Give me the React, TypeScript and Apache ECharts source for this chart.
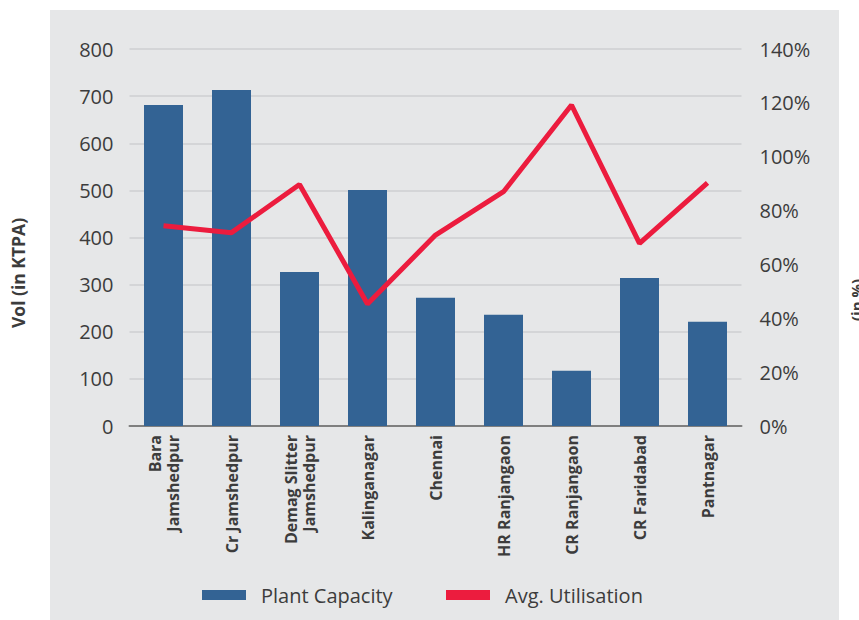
import React, { useEffect, useRef } from "react";
import * as echarts from "echarts";

const categories = [
  "Bara\nJamshedpur",
  "Cr Jamshedpur",
  "Demag Slitter\nJamshedpur",
  "Kalinganagar",
  "Chennai",
  "HR Ranjangaon",
  "CR Ranjangaon",
  "CR Faridabad",
  "Pantnagar",
];
const plantCapacity = [681, 713, 327, 501, 272, 236, 117, 314, 221];
const avgUtilisation = [74.4, 71.8, 89.7, 45.3, 70.9, 87, 119.2, 67.8, 90.3];
const leftAxisName = "Vol (in KTPA)";
const rightAxisName = "(in %)";

const FONT = "'Open Sans', 'Noto Sans', sans-serif";
const TXT = "#3c3c3c";

export default function App() {
  const ref = useRef<HTMLDivElement>(null);
  useEffect(() => {
    if (!ref.current) return;
    const chart = echarts.init(ref.current, undefined, { renderer: "svg" });
    const legendText = { fontSize: 20, color: TXT, fontFamily: FONT, padding: [0, 0, 0, 10] };
    chart.setOption({
      animation: false,
      backgroundColor: "#ffffff",
      textStyle: { fontFamily: FONT },
      graphic: [
        {
          type: "rect",
          z: -10,
          shape: { x: 50, y: 10, width: 789, height: 620 },
          style: { fill: "#e6e7e8" },
        },
        {
          type: "text",
          x: 18,
          y: 273,
          rotation: Math.PI / 2,
          style: {
            text: leftAxisName,
            fontFamily: FONT,
            fontWeight: "bold",
            fontSize: 17.5,
            fill: TXT,
            align: "center",
            verticalAlign: "middle",
          },
        },
        {
          type: "text",
          x: 856,
          y: 300,
          rotation: Math.PI / 2,
          style: {
            text: rightAxisName,
            fontFamily: FONT,
            fontWeight: "bold",
            fontSize: 15,
            fill: TXT,
            align: "center",
            verticalAlign: "middle",
          },
        },
      ],
      grid: { left: 129.5, right: 117.5, top: 49, bottom: 194, containLabel: false },
      legend: [
        {
          left: 202,
          top: 585,
          padding: 0,
          icon: "rect",
          itemWidth: 44,
          itemHeight: 10,
          textStyle: legendText,
          data: ["Plant Capacity"],
        },
        {
          left: 446,
          top: 585,
          padding: 0,
          icon: "rect",
          itemWidth: 44,
          itemHeight: 10,
          textStyle: legendText,
          data: ["Avg. Utilisation"],
        },
      ],
      xAxis: {
        type: "category",
        data: categories,
        axisLine: { lineStyle: { color: "#7f7f7f", width: 2 } },
        axisTick: { show: false },
        axisLabel: {
          rotate: 90,
          interval: 0,
          margin: 9,
          fontSize: 16,
          fontWeight: "bold",
          color: TXT,
          lineHeight: 18,
          fontFamily: FONT,
        },
      },
      yAxis: [
        {
          type: "value",
          min: 0,
          max: 800,
          interval: 100,
          axisLine: { show: false },
          axisTick: { show: false },
          axisLabel: { margin: 16, fontSize: 20, color: TXT, fontFamily: FONT },
          splitLine: { lineStyle: { color: "#d4d5d7", width: 2 } },
        },
        {
          type: "value",
          min: 0,
          max: 140,
          interval: 20,
          position: "right",
          axisLine: { show: false },
          axisTick: { show: false },
          axisLabel: { margin: 18, fontSize: 20, color: TXT, fontFamily: FONT, formatter: "{value}%" },
          splitLine: { show: false },
        },
      ],
      series: [
        {
          name: "Plant Capacity",
          type: "bar",
          data: plantCapacity,
          barWidth: 39,
          itemStyle: { color: "#336394" },
        },
        {
          name: "Avg. Utilisation",
          type: "line",
          yAxisIndex: 1,
          data: avgUtilisation,
          symbol: "none",
          lineStyle: { color: "#ec1c3e", width: 5 },
          itemStyle: { color: "#ec1c3e" },
          z: 3,
        },
      ],
    });
    return () => chart.dispose();
  }, []);
  return (
    <div
      ref={ref}
      style={{ position: "fixed", left: 0, top: 0, width: 859, height: 620 }}
    />
  );
}
